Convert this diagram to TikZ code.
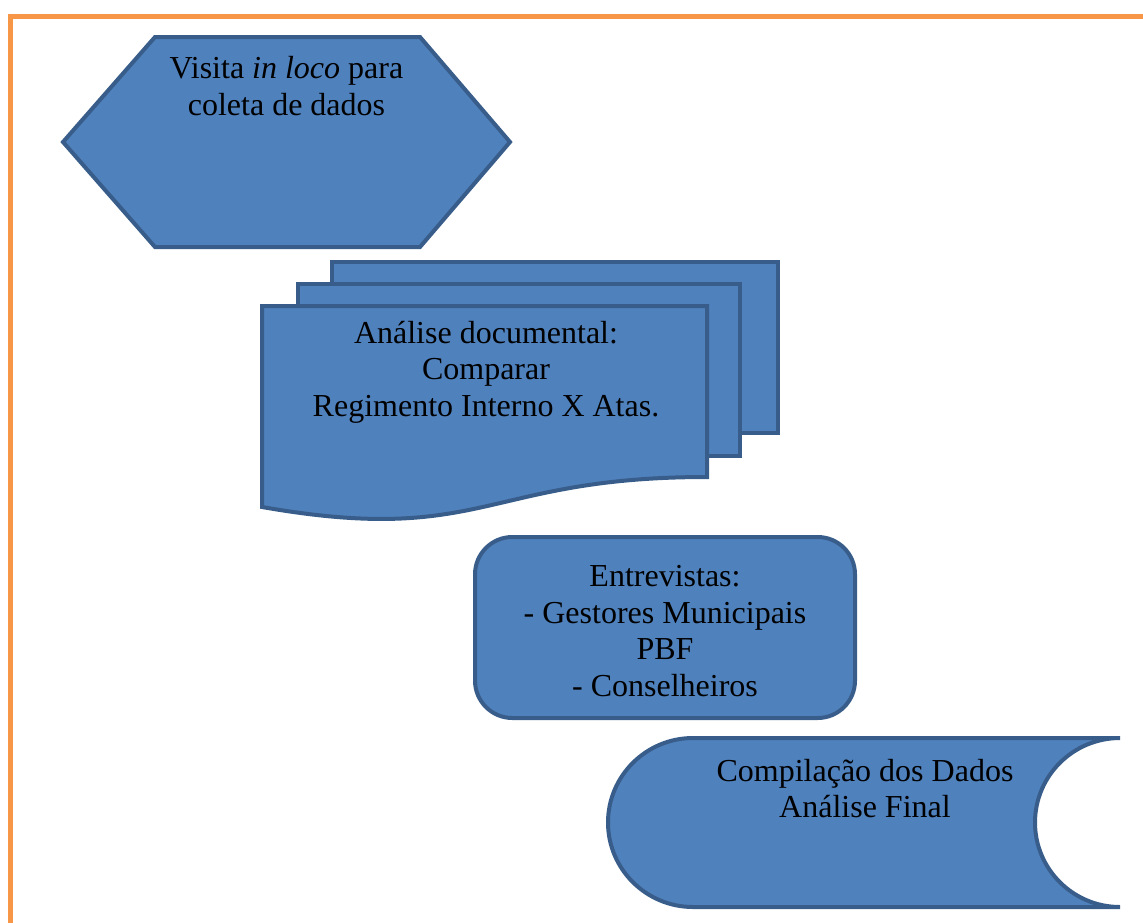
\documentclass[tikz,border=0pt]{standalone}
\usepackage{fontspec}
\setmainfont{Liberation Serif}
\definecolor{boxfill}{HTML}{4F81BD}
\definecolor{boxline}{HTML}{385D8A}
\definecolor{frameor}{HTML}{F79646}
\tikzset{
  shapebox/.style={fill=boxfill, draw=boxline, line width=3pt, line join=miter},
  label/.style={align=center, inner sep=0pt, font=\fontsize{24}{27.4}\selectfont, text=black},
  framestyle/.style={draw=frameor, line width=3.9pt}
}
\begin{document}
\begin{tikzpicture}[x=0.75pt,y=-0.75pt]
\useasboundingbox (0,0) rectangle (1143,922);
% orange frame
\coordinate (fbl) at (10.5,930);
\coordinate (ftl) at (10.5,16.5);
\coordinate (ftr) at (1150,16.5);
\draw[framestyle] (fbl) -- (ftl) -- (ftr);
% hexagon
\draw[shapebox] (155,37) -- (420,37) -- (510,142) -- (420,247) -- (155,247) -- (63,142) -- cycle;
\node[label] (visita) at (286.5,86) {Visita \textit{in loco} para\\coleta de dados};
% multi-document
\draw[shapebox] (332,262) rectangle (778,433);
\draw[shapebox] (298,284) rectangle (740,456);
\draw[shapebox] (262,306) -- (707,306) -- (707,477)
  .. controls (484.5,477) and (484.5,546) .. (262,507) -- cycle;
\node[label] (analise) at (486,372) {Análise documental:\\Comparar\\Regimento Interno X Atas.};
% rounded rectangle
\draw[shapebox, rounded corners=28] (475,537) rectangle (855,718);
\node[label] (entrev) at (665,631) {Entrevistas:\\- Gestores Municipais\\PBF\\- Conselheiros};
% stored data
\draw[shapebox] (693,738) -- (1120,738)
  .. controls (1073.1,738) and (1035,775.9) .. (1035,822.5)
  .. controls (1035,869.1) and (1073.1,907) .. (1120,907)
  -- (693,907)
  .. controls (646.1,907) and (608,869.1) .. (608,822.5)
  .. controls (608,775.9) and (646.1,738) .. (693,738) -- cycle;
\node[label] (compil) at (865,788.5) {Compilação dos Dados\\Análise Final};
\end{tikzpicture}
\end{document}
